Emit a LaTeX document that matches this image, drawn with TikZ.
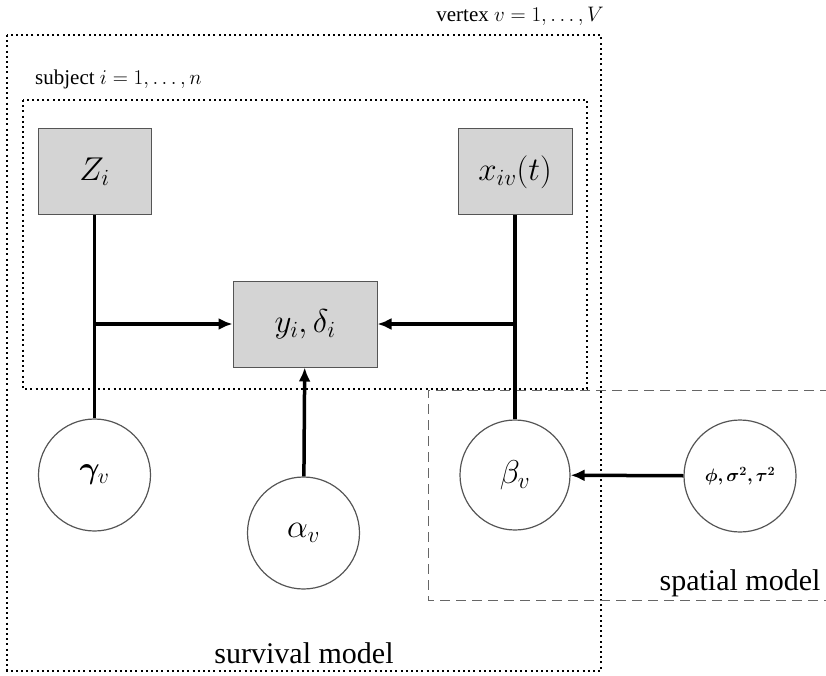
\RequirePackage{fix-cm}
\documentclass[tikz,border=0pt]{standalone}
\usepackage{amsmath}
\usepackage{bm}
\usepackage{fontspec}
\setmainfont{Liberation Serif}
\usetikzlibrary{arrows.meta}
\definecolor{boxfill}{HTML}{D4D4D4}
\definecolor{edgegray}{HTML}{555555}
\definecolor{dashgray}{HTML}{666666}
\tikzset{
  obsbox/.style={draw=edgegray, line width=1pt, fill=boxfill, minimum width=113pt,
    minimum height=86pt, inner sep=0pt, font=\fontsize{33}{40}\selectfont},
  parcircle/.style={draw=edgegray, line width=1.2pt, circle, minimum size=112pt,
    inner sep=0pt, font=\fontsize{33}{40}\selectfont},
  link/.style={line width=3.5pt, line cap=butt},
  arrowlink/.style={link, -{Latex[length=14pt,width=12pt]}},
  platebox/.style={line width=2pt, dash pattern=on 2pt off 3.2pt},
  spatialbox/.style={line width=1pt, draw=dashgray, dash pattern=on 10pt off 6pt},
  platelabel/.style={anchor=base, inner sep=0pt, font=\fontsize{21}{25}\selectfont},
  modellabel/.style={anchor=base, inner sep=0pt, font=\fontsize{30}{36}\selectfont}
}
\begin{document}
\begin{tikzpicture}[x=1pt, y=-1pt]
  \useasboundingbox (0,0) rectangle (826,676);

  % plates
  \draw[platebox] (7,35) rectangle (601,671);
  \draw[platebox] (23,100) rectangle (587,389);
  \draw[spatialbox] (830,390) -- (428,390) -- (428,600) -- (830,600);

  % plate and model labels
  \node[platelabel, anchor=base east] (vlab) at (604,22) {vertex $v=1,\ldots,V$};
  \node[platelabel, anchor=base west] (slab) at (35,85) {subject $i=1,\ldots,n$};
  \node[modellabel] (surv) at (304,663) {survival model};
  \node[modellabel] (spat) at (740,590) {spatial model};

  % observed quantities
  \node[obsbox] (Z) at (94.5,172) {$Z_i$};
  \node[obsbox, minimum width=114pt] (X) at (515,172) {$x_{iv}(t)$};
  \node[obsbox, minimum width=144pt] (Y) at (305,324) {$y_i,\delta_i$};

  % parameters
  \node[parcircle, font=\fontsize{31}{37}\selectfont] (gam) at (94.5,475) {$\bm{\gamma}_{v}$};
  \node[parcircle] (alp) at (303.5,533) {$\alpha_v$};
  \node[parcircle, minimum size=110pt] (bet) at (515,475) {$\beta_v$};
  \node[parcircle, minimum size=112pt, font=\fontsize{18}{22}\selectfont] (phi) at (740,476)
    {$\bm{\phi,\sigma^2,\tau^2}$};

  % connectors
  \draw[link] (Z) -- (gam);
  \draw[link] (X) -- (bet);
  \draw[arrowlink] (Z |- Y) -- (Y);
  \draw[arrowlink] (X |- Y) -- (Y);
  \draw[arrowlink] (alp) -- (Y);
  \draw[arrowlink] (phi) -- (bet);
\end{tikzpicture}
\end{document}
